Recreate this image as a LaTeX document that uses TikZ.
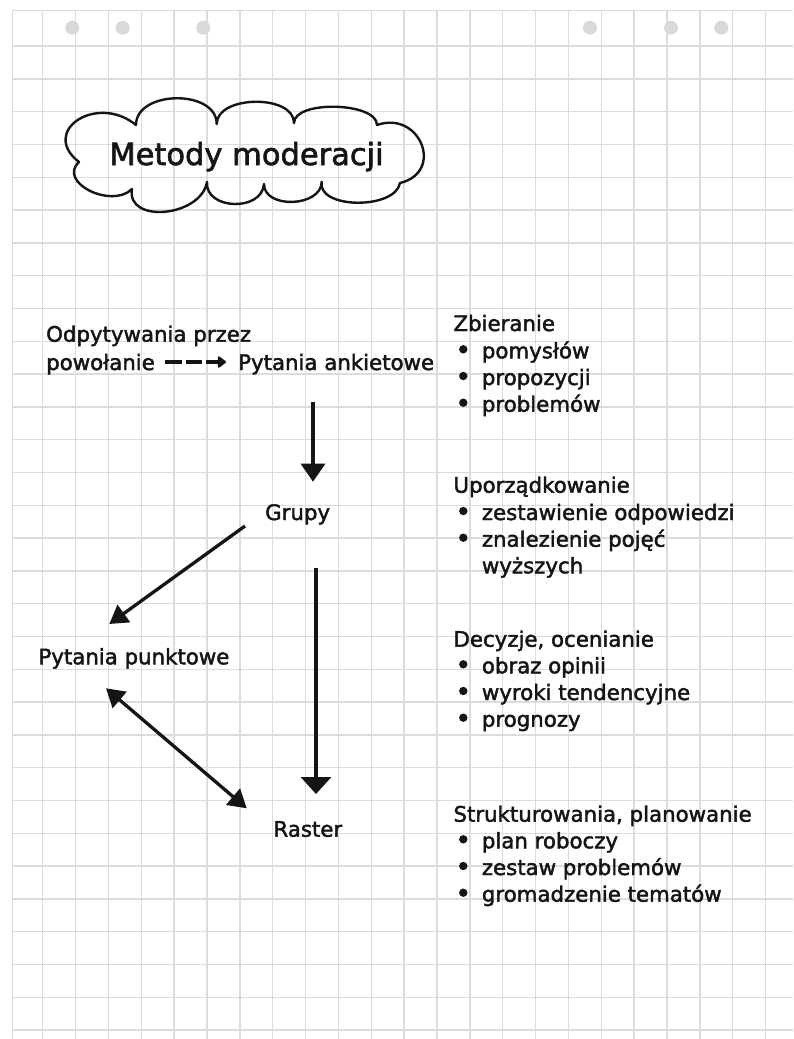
\documentclass[tikz,border=0pt]{standalone}
\usepackage{fontspec}
\setmainfont[FakeBold=2]{DejaVu Sans}
\usetikzlibrary{arrows.meta,calc}
\definecolor{gridc}{HTML}{DCDCDC}
\definecolor{dotc}{HTML}{D9D9D9}
\definecolor{ink}{HTML}{151515}
\begin{document}
\begin{tikzpicture}[x=1pt,y=-1pt,
  gridline/.style={draw=gridc,line width=1.4pt},
  lbl/.style={anchor=base west,inner sep=0pt,font=\fontsize{21.3}{25}\selectfont,text=ink},
  arr/.style={draw=ink,line width=3.3pt},
  hole/.style={fill=dotc},
  cloudline/.style={draw=ink,line width=2.4pt,line join=round},
]
\fill[white] (0,0) rectangle (793,1039);
\useasboundingbox (0,0) rectangle (793,1039);
% grid
\foreach \i in {0,...,22} \draw[gridline] ({42.7+32.86*\i},10.7) -- ({42.7+32.86*\i},1039);
\foreach \j in {0,...,30} \draw[gridline] (12.7,{46+32.8*\j}) -- (793,{46+32.8*\j});
\draw[gridline] (12.7,1039) -- (12.7,10.7) -- (793,10.7);
% holes
\foreach \x in {72.3,122.7,203.3,590,671,721.3} \fill[hole] (\x,27.7) circle[radius=7pt];
% title cloud
\draw[cloudline]
  (136,125) .. controls (136,90) and (216.7,89) .. (216.7,124)
            .. controls (216.7,95) and (294,94) .. (294,123)
            .. controls (294,100) and (377,102) .. (377,125)
            .. controls (420,110) and (445,172) .. (400,183)
            .. controls (395,210) and (316.7,209) .. (321.7,181.7)
            .. controls (321.7,207) and (264,209.5) .. (264,184)
            .. controls (262,212) and (205,210) .. (207,182)
            .. controls (201,217) and (126,224) .. (132,189)
            .. controls (111.3,209.3) and (57.3,182.3) .. (79,162)
            .. controls (39,131) and (97,93) .. (136,125) -- cycle;
\node[anchor=base,inner sep=0pt,text=ink,font=\fontsize{30.5}{36}\selectfont] (title) at (246.5,165) {Metody moderacji};
% left labels
\node[lbl] (odp1) at (46,341.7) {Odpytywania przez};
\node[lbl] (odp2) at (46,370) {powołanie};
\node[lbl] (ank) at (238,370) {Pytania ankietowe};
\node[lbl] (gr) at (265,520) {Grupy};
\node[lbl] (pp) at (38.3,664.3) {Pytania punktowe};
\node[lbl] (ras) at (273.3,836.7) {Raster};
% connectors
\draw[ink,line width=3.5pt,dash pattern=on 16.7pt off 3.8pt,-{Triangle[width=13pt,length=9pt,round]}]
  ($(odp2.base west)+(119,-8)$) -- ($(ank.base west)+(-12,-8)$);
\draw[arr,-{Triangle[width=24pt,length=18pt]}] ($(ank.base west)+(75,31.7)$) -- ($(gr.base west)+(48,-38.3)$);
\draw[arr,-{Triangle[width=21pt,length=18pt]}] ($(gr.base west)+(-20,6)$) -- ($(pp.base west)+(71,-40.3)$);
\draw[arr,-{Triangle[width=30pt,length=17pt]}] ($(gr.base west)+(51,48.3)$) -- ($(ras.base west)+(42.7,-42.7)$);
\draw[arr,{Triangle[width=21pt,length=18pt]}-{Triangle[width=21pt,length=18pt]}]
  ($(pp.base west)+(67.7,24)$) -- ($(ras.base west)+(-26.6,-28.4)$);
% right column
\node[lbl] (zb) at (453.3,331) {Zbieranie};
\node[lbl] (zb1) at (481.7,358.3) {pomysłów};
\node[lbl] (zb2) at (481.7,385) {propozycji};
\node[lbl] (zb3) at (481.7,411.7) {problemów};
\node[lbl] (up) at (453.3,492.7) {Uporządkowanie};
\node[lbl] (up1) at (481.7,520) {zestawienie odpowiedzi};
\node[lbl] (up2) at (481.7,546.7) {znalezienie pojęć};
\node[lbl] (up3) at (481.7,573.3) {wyższych};
\node[lbl] (de) at (453.3,646.7) {Decyzje, ocenianie};
\node[lbl] (de1) at (481.7,673.3) {obraz opinii};
\node[lbl] (de2) at (481.7,700) {wyroki tendencyjne};
\node[lbl] (de3) at (481.7,726.7) {prognozy};
\node[lbl] (st) at (453.3,821.7) {Strukturowania, planowanie};
\node[lbl] (st1) at (481.7,848.3) {plan roboczy};
\node[lbl] (st2) at (481.7,875) {zestaw problemów};
\node[lbl] (st3) at (481.7,901.7) {gromadzenie tematów};
\foreach \n in {zb1,zb2,zb3,up1,up2,de1,de2,de3,st1,st2,st3}
  \fill[ink] ($(\n.base west)+(-18.4,-9)$) circle[radius=4.2pt];
\end{tikzpicture}
\end{document}
